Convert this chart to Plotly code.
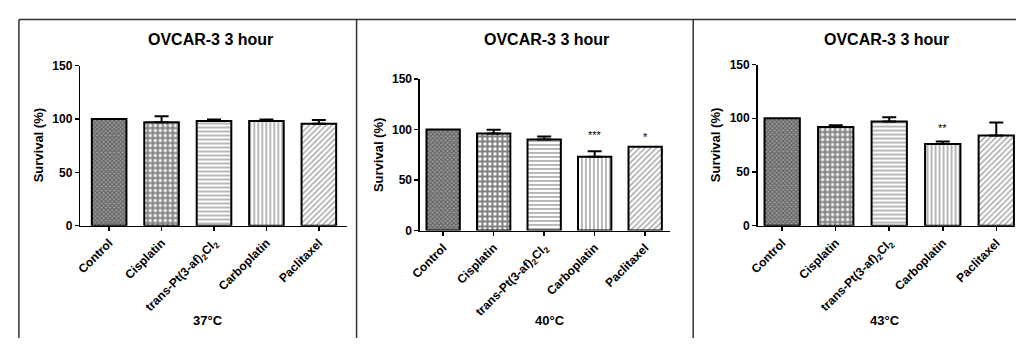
import plotly.graph_objects as go

W, H = 1016, 345

categories = ["Control", "Cisplatin", "trans-Pt(3-af)<sub>2</sub>Cl<sub>2</sub>", "Carboplatin", "Paclitaxel"]
panel_titles = ["OVCAR-3 3 hour", "OVCAR-3 3 hour", "OVCAR-3 3 hour"]
temperatures = ["37°C", "40°C", "43°C"]

survival_37 = [100, 97, 98, 98, 95.5]
error_37 = [0, 5.5, 1.5, 1.5, 3.5]
stars_37 = ["", "", "", "", ""]
star_y_37 = [None, None, None, None, None]

survival_40 = [100, 96, 90, 73, 83]
error_40 = [0, 3.8, 3, 5.5, 0]
stars_40 = ["", "", "", "***", "*"]
star_y_40 = [None, None, None, 98, 96]

survival_43 = [100, 92, 97, 76, 84]
error_43 = [0, 1.5, 4, 2.5, 12]
stars_43 = ["", "", "", "**", ""]
star_y_43 = [None, None, None, 94, None]

y_ticks = [0, 50, 100, 150]

# layout (pixel positions)
panels = [
    dict(vals=survival_37, errs=error_37, stars=stars_37, sy=star_y_37,
         x0=71, x1=340, y0=228, y1=61, xr=[-0.55, 4.53], tx=202, ytx=29, tempx=200),
    dict(vals=survival_40, errs=error_40, stars=stars_40, sy=star_y_40,
         x0=414, x1=667, y0=233, y1=75, xr=[-0.46, 4.5], tx=542, ytx=372, tempx=545),
    dict(vals=survival_43, errs=error_43, stars=stars_43, sy=star_y_43,
         x0=755, x1=1015, y0=228, y1=60, xr=[-0.46, 4.35], tx=885, ytx=712, tempx=884),
]

patterns = [
    dict(shape="x", size=3, solidity=0.5, fgcolor="#1a1a1a", bgcolor="#9a9a9a"),
    dict(shape="+", size=5, solidity=0.65, fgcolor="#000000", bgcolor="#ffffff"),
    dict(shape="-", size=4, solidity=0.35, fgcolor="#333333", bgcolor="#ffffff"),
    dict(shape="|", size=4, solidity=0.35, fgcolor="#333333", bgcolor="#ffffff"),
    dict(shape="/", size=4, solidity=0.35, fgcolor="#444444", bgcolor="#ffffff"),
]

FONT = "Arial, Liberation Sans, sans-serif"

fig = go.Figure()
annotations = []
layout_axes = {}

def px_x(v):
    return v / W

def px_y(v):
    return 1 - v / H

for i, p in enumerate(panels):
    n = i + 1
    xa = "x" if n == 1 else f"x{n}"
    ya = "y" if n == 1 else f"y{n}"
    for j, cat in enumerate(categories):
        fig.add_trace(go.Bar(
            x=[j], y=[p["vals"][j]],
            xaxis=xa, yaxis=ya,
            width=0.66,
            marker=dict(color="#ffffff", line=dict(color="#000000", width=2),
                        pattern=patterns[j]),
            error_y=dict(type="data", symmetric=False,
                         array=[p["errs"][j]], arrayminus=[0],
                         visible=p["errs"][j] > 0,
                         color="#000000", thickness=2, width=7),
            showlegend=False, hoverinfo="skip",
        ))
        if p["stars"][j]:
            annotations.append(dict(
                x=j, y=p["sy"][j], xref=xa, yref=ya, text=p["stars"][j],
                showarrow=False, yanchor="middle", yshift=-3,
                font=dict(family=FONT, size=11, color="#000000"),
            ))
    xkey = "xaxis" if n == 1 else f"xaxis{n}"
    ykey = "yaxis" if n == 1 else f"yaxis{n}"
    layout_axes[xkey] = dict(
        domain=[px_x(p["x0"]), px_x(p["x1"])], anchor=ya, range=p["xr"],
        tickmode="array", tickvals=list(range(len(categories))), ticktext=categories,
        tickangle=-45, ticks="outside", ticklen=4, tickwidth=1.5, tickcolor="#000",
        showline=True, linecolor="#000", linewidth=1.5, showgrid=False, zeroline=False,
        tickfont=dict(family=FONT, size=12, color="#000", weight="bold"),
        fixedrange=True,
    )
    layout_axes[ykey] = dict(
        domain=[px_y(p["y0"]), px_y(p["y1"])], anchor=xa, range=[0, 150],
        tickmode="array", tickvals=y_ticks, ticks="outside", ticklen=4, tickwidth=1.5,
        tickcolor="#000", showline=True, linecolor="#000", linewidth=1.5,
        showgrid=False, zeroline=False,
        tickfont=dict(family=FONT, size=12, color="#000", weight="bold"),
        fixedrange=True,
    )
    annotations.append(dict(
        x=px_x(p["tx"]), y=px_y(34), xref="paper", yref="paper",
        text=panel_titles[i], showarrow=False, xanchor="center", yanchor="middle",
        font=dict(family=FONT, size=16, color="#000", weight="bold"),
    ))
    annotations.append(dict(
        x=px_x(p["ytx"]), y=px_y((p["y0"] + p["y1"]) / 2), xref="paper", yref="paper",
        text="Survival (%)", showarrow=False, textangle=-90,
        xanchor="center", yanchor="middle",
        font=dict(family=FONT, size=13, color="#000", weight="bold"),
    ))
    annotations.append(dict(
        x=px_x(p["tempx"]), y=px_y(327), xref="paper", yref="paper",
        text=temperatures[i], showarrow=False, xanchor="center", yanchor="middle",
        font=dict(family=FONT, size=13, color="#000", weight="bold"),
    ))

shapes = [
    dict(type="line", xref="paper", yref="paper", x0=px_x(9), x1=1, y0=px_y(13), y1=px_y(13),
         line=dict(color="#333", width=1.5)),
    dict(type="line", xref="paper", yref="paper", x0=px_x(9), x1=px_x(9), y0=px_y(13), y1=0,
         line=dict(color="#333", width=1.5)),
    dict(type="line", xref="paper", yref="paper", x0=px_x(350), x1=px_x(350), y0=px_y(13), y1=0,
         line=dict(color="#333", width=1.5)),
    dict(type="line", xref="paper", yref="paper", x0=px_x(690), x1=px_x(690), y0=px_y(13), y1=0,
         line=dict(color="#333", width=1.5)),
]

fig.update_layout(
    width=W, height=H, margin=dict(l=0, r=0, t=0, b=0),
    paper_bgcolor="#fff", plot_bgcolor="rgba(0,0,0,0)",
    barmode="overlay", annotations=annotations, shapes=shapes,
    **layout_axes,
)

fig.write_html(
    "out.html",
    config={"displayModeBar": False, "staticPlot": True},
    post_script="document.documentElement.style.margin='0';document.body.style.margin='0';document.body.style.overflow='hidden';",
)
